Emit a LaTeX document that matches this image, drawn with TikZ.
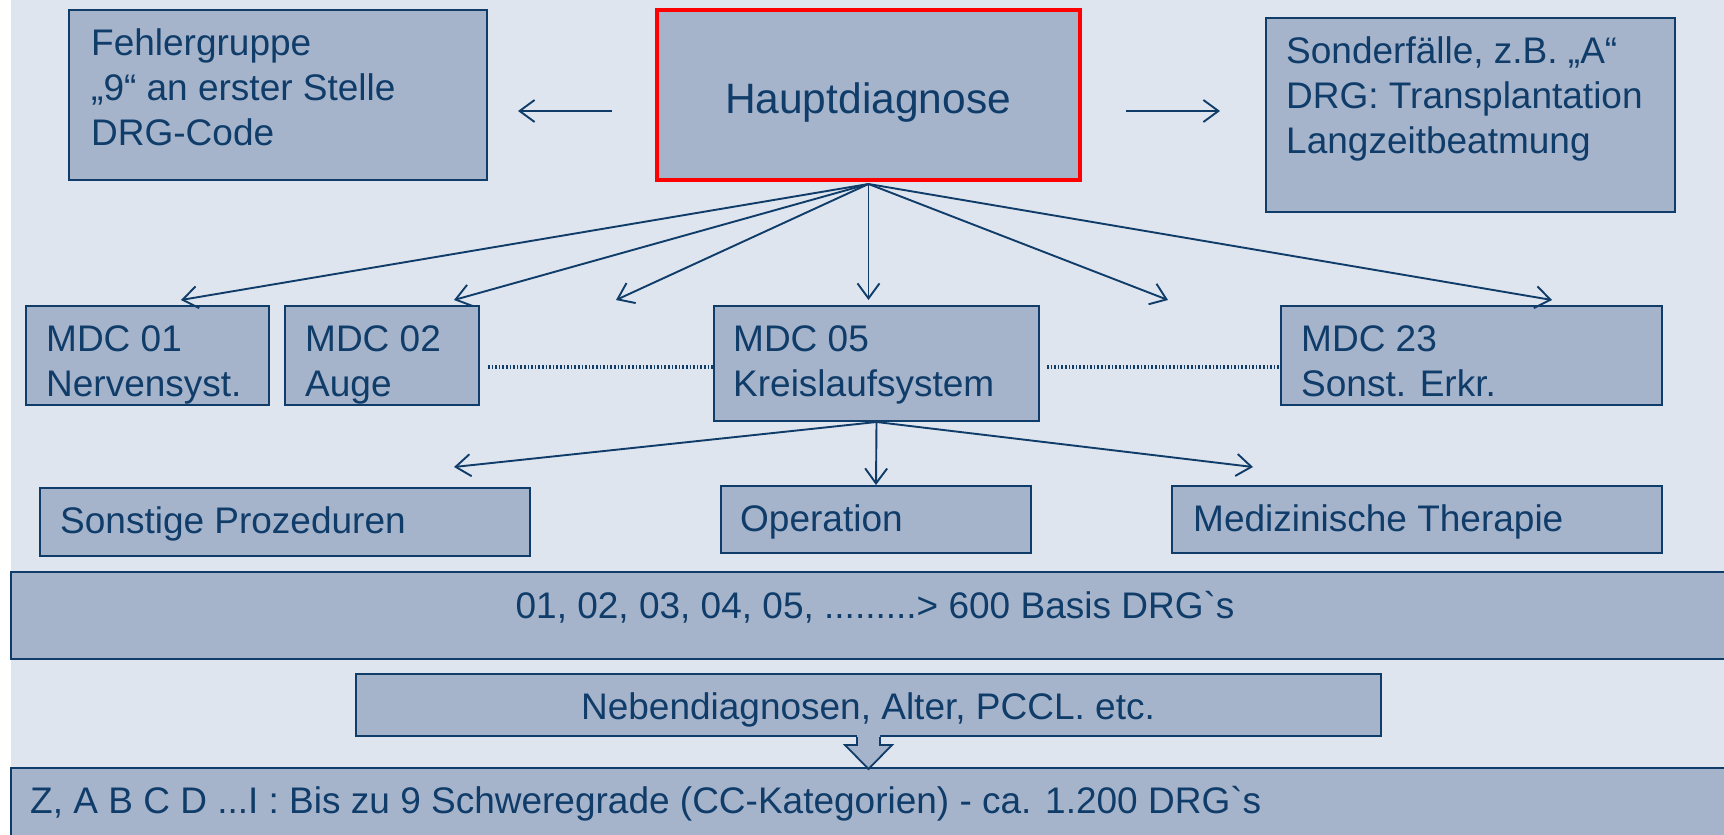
\documentclass[tikz,border=0pt]{standalone}
\usepackage{fontspec}
\newfontfamily\lsans{Liberation Sans}
\usetikzlibrary{arrows.meta,fit,calc}
\definecolor{bgc}{HTML}{DEE5EE}
\definecolor{boxc}{HTML}{A5B3CB}
\definecolor{navy}{HTML}{0F3C69}
\definecolor{redc}{HTML}{FF0000}
\begin{document}
\begin{tikzpicture}[x=1pt,y=-1pt,
  box/.style={draw=navy,fill=boxc,line width=2pt,inner sep=0pt},
  hbox/.style={draw=redc,fill=boxc,line width=4pt,inner sep=0pt},
  txt/.style={text=navy,inner sep=0pt,anchor=base west,font=\lsans\fontsize{37}{45}\selectfont},
  ctxt/.style={txt,anchor=base},
  conn/.style={draw=navy,line width=1.9pt,-{Straight Barb[length=15pt,width=22pt]}},
  dotline/.style={draw=navy,line width=3.5pt,dash pattern=on 1.6pt off 2pt}]
\useasboundingbox (0,0) rectangle (1724,835);
\fill[bgc] (11,0) rectangle (1724,835);
\fill[white] (0,0) rectangle (11,835);
% top row
\node[box,fit={(69,10) (487,180)}] (fehler) {};
\node[hbox,fit={(657,10) (1080,180)}] (haupt) {};
\node[box,fit={(1266,18) (1675,212)}] (sonder) {};
% MDC row
\node[box,fit={(26,306) (269,405)}] (mdc01) {};
\node[box,fit={(285,306) (479,405)}] (mdc02) {};
\node[box,fit={(714,306) (1039,421)}] (mdc05) {};
\node[box,fit={(1281,306) (1662,405)}] (mdc23) {};
% procedure row
\node[box,fit={(40,488) (530,556)}] (sonst) {};
\node[box,fit={(721,486) (1031,553)}] (oper) {};
\node[box,fit={(1172,486) (1662,553)}] (medth) {};
% bottom bands
\node[box,fit={(11,572) (1740,659)}] (basis) {};
\node[box,fit={(356,674) (1381,736)}] (neben) {};
\node[box,fit={(11,768) (1740,850)}] (bottom) {};
% texts
\node[txt] (fehler1) at (91,55) {Fehlergruppe};
\node[txt] (fehler2) at (91,100) {„9“ an erster Stelle};
\node[txt] (fehler3) at (91,145) {DRG-Code};
\node[ctxt,font=\lsans\fontsize{42.5}{50}\selectfont] (hauptT) at (868,113) {Hauptdiagnose};
\node[txt] (sonder1) at (1286,63) {Sonderfälle, z.B. „A“};
\node[txt] (sonder2) at (1286,108) {DRG: Transplantation};
\node[txt] (sonder3) at (1286,153) {Langzeitbeatmung};
\node[txt] (m01a) at (46,351) {MDC 01};
\node[txt] (m01b) at (46,396) {Nervensyst.};
\node[txt] (m02a) at (305,351) {MDC 02};
\node[txt] (m02b) at (305,396) {Auge};
\node[txt] (m05a) at (733,351) {MDC 05};
\node[txt] (m05b) at (733,396) {Kreislaufsystem};
\node[txt] (m23a) at (1301,351) {MDC 23};
\node[txt] (m23b) at (1301,396) {Sonst. Erkr.};
\node[txt] (sonstT) at (60,533) {Sonstige Prozeduren};
\node[txt] (operT) at (740,531) {Operation};
\node[txt] (medthT) at (1193,531) {Medizinische Therapie};
\node[ctxt] (basisT) at (875,618) {01, 02, 03, 04, 05, .........> 600 Basis DRG`s};
\node[ctxt] (nebenT) at (868,719) {Nebendiagnosen, Alter, PCCL. etc.};
\node[txt] (bottomT) at (30,813) {Z, A B C D ...I : Bis zu 9 Schweregrade (CC-Kategorien) - ca. 1.200 DRG`s};
% side arrows
\coordinate (la0) at (612,111);
\coordinate (la1) at (518,111);
\coordinate (ra0) at (1126,111);
\coordinate (ra1) at (1220,111);
\draw[conn] (la0) -- (la1);
\draw[conn] (ra0) -- (ra1);
% fan from Hauptdiagnose
\coordinate (t1) at (181,300);
\coordinate (t2) at (454,300);
\coordinate (t3) at (616,300);
\coordinate (t4) at (868.5,300);
\coordinate (t5) at (1168,300);
\coordinate (t6) at (1552,300);
\foreach \t in {t1,t2,t3,t4,t5,t6} \draw[conn] ($(haupt.south)+(0,2)$) -- (\t);
% fan from MDC 05
\coordinate (s1) at (454,467);
\coordinate (s3) at (1253,467);
\draw[conn] (mdc05.south) -- (s1);
\draw[conn] (mdc05.south) -- (oper.north);
\draw[conn] (mdc05.south) -- (s3);
% dotted links
\coordinate (dy) at (0,367);
\draw[dotline] ($(mdc02.east |- dy)+(8,0)$) -- (mdc05.west |- dy);
\draw[dotline] ($(mdc05.east |- dy)+(7,0)$) -- (mdc23.west |- dy);
% block arrow
\fill[boxc] ($(neben.south)+(-11.5,-2)$) -- ($(neben.south)+(-11.5,8)$) -- ($(neben.south)+(-23.5,8)$)
  -- ($(neben.south)+(0,32)$) -- ($(neben.south)+(23.5,8)$) -- ($(neben.south)+(11.5,8)$) -- ($(neben.south)+(11.5,-2)$) -- cycle;
\draw[navy,line width=1.8pt,line join=miter] ($(neben.south)+(-11.5,0)$) -- ($(neben.south)+(-11.5,8)$) -- ($(neben.south)+(-23.5,8)$)
  -- ($(neben.south)+(0,32)$) -- ($(neben.south)+(23.5,8)$) -- ($(neben.south)+(11.5,8)$) -- ($(neben.south)+(11.5,0)$);
\end{tikzpicture}
\end{document}
